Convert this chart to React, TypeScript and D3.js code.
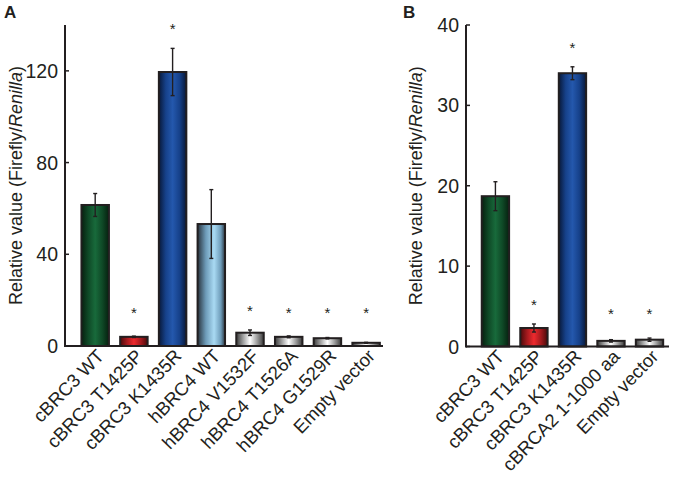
import React from "react";
import * as d3 from "d3";

const catsA = ["cBRC3 WT", "cBRC3 T1425P", "cBRC3 K1435R", "hBRC4 WT", "hBRC4 V1532F", "hBRC4 T1526A", "hBRC4 G1529R", "Empty vector"];
const valsA = [61.5, 4.0, 119.5, 53.2, 5.8, 4.0, 3.4, 1.4];
const errsA = [5.0, 0.3, 10.3, 15.0, 1.2, 0.4, 0.3, 0.2];
const starA = [false, true, true, false, true, true, true, true];
const colorsA = ["green", "red", "blue", "lightblue", "gray", "gray", "gray", "gray"];
const ticksA = [0, 40, 80, 120];

const catsB = ["cBRC3 WT", "cBRC3 T1425P", "cBRC3 K1435R", "cBRCA2 1-1000 aa", "Empty vector"];
const valsB = [18.7, 2.3, 34.0, 0.7, 0.85];
const errsB = [1.8, 0.5, 0.8, 0.15, 0.2];
const starB = [false, true, true, true, true];
const colorsB = ["green", "red", "blue", "gray", "gray"];
const ticksB = [0, 10, 20, 30, 40];

const gradients: Record<string, [number, string][]> = {
  green: [[0, "#06200f"], [0.25, "#0f4a27"], [0.5, "#186a3b"], [0.75, "#0f4a27"], [1, "#06200f"]],
  red: [[0, "#4a0a0a"], [0.25, "#a41a1e"], [0.5, "#ee2a2e"], [0.75, "#a41a1e"], [1, "#4a0a0a"]],
  blue: [[0, "#081838"], [0.25, "#16418a"], [0.5, "#2458ad"], [0.75, "#16418a"], [1, "#081838"]],
  lightblue: [[0, "#28323c"], [0.3, "#6d9bb8"], [0.6, "#a9daf3"], [0.85, "#6d9bb8"], [1, "#28323c"]],
  gray: [[0, "#3a3a3a"], [0.25, "#a0a0a0"], [0.5, "#ffffff"], [0.75, "#a0a0a0"], [1, "#3a3a3a"]],
};

const FONT = "'Liberation Sans', Arial, sans-serif";
const DARK = "#231f20";

type PanelProps = {
  cats: string[]; vals: number[]; errs: number[]; stars: boolean[]; colors: string[]; ticks: number[];
  max: number; x0: number; x1: number; y0: number; y1: number; align: number; po: number;
  labelX: number; letter: string; letterX: number;
};

function Panel(p: PanelProps) {
  const x = d3.scaleBand<string>().domain(p.cats).range([p.x0, p.x1]).paddingInner(0.29).paddingOuter(p.po).align(p.align);
  const y = d3.scaleLinear().domain([0, p.max]).range([p.y0, p.y1]);
  const bw = x.bandwidth();
  return (
    <g>
      <text x={p.letterX} y={18} fontFamily={FONT} fontWeight="bold" fontSize={17} fill={DARK}>{p.letter}</text>
      <text transform={`translate(${p.labelX},${(p.y0 + p.y1) / 2}) rotate(-90)`} textAnchor="middle"
        fontFamily={FONT} fontSize={18} fill={DARK}>
        Relative value (Firefly/<tspan fontStyle="italic">Renilla</tspan>)
      </text>
      {p.cats.map((c, i) => {
        const xl = x(c)!;
        const cx = xl + bw / 2;
        const top = y(p.vals[i]);
        const eTop = y(p.vals[i] + p.errs[i]);
        const eBot = y(p.vals[i] - p.errs[i]);
        const starY = Math.min(eTop - 14, p.y0 - 28);
        return (
          <g key={c}>
            <rect x={xl} y={top} width={bw} height={p.y0 - top} fill={`url(#g-${p.colors[i]})`} stroke={DARK} strokeWidth={2} />
            <line x1={cx} x2={cx} y1={eTop} y2={eBot} stroke={DARK} strokeWidth={1.4} />
            <line x1={cx - 2} x2={cx + 2} y1={eTop} y2={eTop} stroke={DARK} strokeWidth={1.4} />
            <line x1={cx - 2} x2={cx + 2} y1={eBot} y2={eBot} stroke={DARK} strokeWidth={1.4} />
            {p.stars[i] && (
              <text x={cx} y={starY} textAnchor="middle" fontFamily={FONT} fontSize={15} fill={DARK}>*</text>
            )}
            <text transform={`translate(${cx + 10},${p.y0 + 11}) rotate(-46)`} textAnchor="end"
              fontFamily={FONT} fontSize={18.5} fill={DARK}>{c}</text>
          </g>
        );
      })}
      <line x1={p.x0} x2={p.x0} y1={p.y1} y2={p.y0 + 1} stroke={DARK} strokeWidth={2} />
      <line x1={p.x0} x2={p.x1} y1={p.y0} y2={p.y0} stroke={DARK} strokeWidth={2} />
      {p.ticks.map((t) => (
        <g key={t}>
          <line x1={p.x0} x2={p.x0 + 4} y1={y(t)} y2={y(t)} stroke={DARK} strokeWidth={1.5} />
          <text x={p.x0 - 7} y={y(t)} dy="0.36em" textAnchor="end" fontFamily={FONT} fontSize={19.5} fill={DARK}>{t}</text>
        </g>
      ))}
    </g>
  );
}

export default function App() {
  return (
    <svg width={674} height={479} style={{ position: "absolute", left: 0, top: 0, background: "#fff" }}>
      <defs>
        {Object.entries(gradients).map(([k, stops]) => (
          <linearGradient key={k} id={`g-${k}`} x1="0" x2="1" y1="0" y2="0">
            {stops.map(([o, c], j) => <stop key={j} offset={o} stopColor={c} />)}
          </linearGradient>
        ))}
      </defs>
      <rect width={674} height={479} fill="#fff" />
      <Panel cats={catsA} vals={valsA} errs={errsA} stars={starA} colors={colorsA} ticks={ticksA}
        max={140} x0={65} x1={383} y0={346} y1={25} align={0.84} po={0.253} labelX={22} letter="A" letterX={4} />
      <Panel cats={catsB} vals={valsB} errs={errsB} stars={starB} colors={colorsB} ticks={ticksB}
        max={40} x0={466} x1={669} y0={346.5} y1={25} align={0.73} po={0.28} labelX={422} letter="B" letterX={403} />
    </svg>
  );
}
